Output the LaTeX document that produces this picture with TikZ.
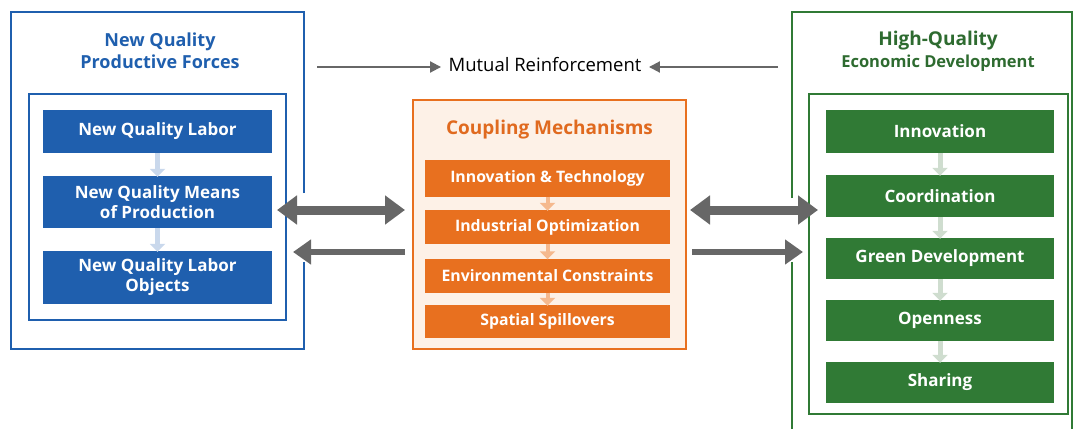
\documentclass[tikz,border=0pt]{standalone}
\usepackage{fontspec}
\setmainfont{Open Sans}
\usetikzlibrary{arrows.meta,positioning}

\definecolor{pfblue}{HTML}{1F5FAE}
\definecolor{pfbluelight}{HTML}{C9D8EC}
\definecolor{cmorange}{HTML}{E8701F}
\definecolor{cmorangetxt}{HTML}{E06A1F}
\definecolor{cmpeach}{HTML}{FDF1E7}
\definecolor{cmorangelight}{HTML}{F5B98E}
\definecolor{hqgreen}{HTML}{307A35}
\definecolor{hqgreentxt}{HTML}{2E6B30}
\definecolor{hqgreenlight}{HTML}{CFDDCF}
\definecolor{arrowgray}{HTML}{676767}

\tikzset{
  panelbox/.style={minimum height=#1, inner sep=0pt, align=center, text=white,
    font=\bfseries\fontsize{17}{20}\selectfont},
  bluebox/.style={panelbox=#1, fill=pfblue, minimum width=229pt},
  orangebox/.style={panelbox=#1, fill=cmorange, minimum width=245pt,
    font=\bfseries\fontsize{15.8}{18}\selectfont},
  greenbox/.style={panelbox=#1, fill=hqgreen, minimum width=228pt},
  paneltitle/.style={align=center, font=\bfseries\fontsize{18}{22}\selectfont},
  flowstep/.style={draw=#1, line width=5pt,
    -{Triangle[length=8pt,width=15pt]}, shorten >=-1pt},
  bigdouble/.style={draw=arrowgray, line width=9pt,
    {Triangle[length=20pt,width=28pt]}-{Triangle[length=20pt,width=28pt]}},
  bigsingle/.style={draw=arrowgray, line width=6.5pt,
    -{Triangle[length=18pt,width=24pt]}},
  thinarrow/.style={draw=arrowgray, line width=2pt,
    -{Triangle[length=11pt,width=11pt]}, shorten >=4pt},
}

\begin{document}
\begin{tikzpicture}[x=1pt,y=-1pt]
\useasboundingbox (0,0) rectangle (1075,428);

% ---------- left panel: new quality productive forces ----------
\draw[pfblue, line width=1.8pt]
  (304,193) -- (304,12) -- (11,12) -- (11,349) -- (304,349) -- (304,262);
\draw[pfblue, line width=1.2pt] (29,94) rectangle (286,320);
\node[paneltitle, text=pfblue] (pftitle) at (160,51) {New Quality\\Productive Forces};

\node[bluebox=43pt] (labor) at (157.5,131.5) {New Quality Labor};
\node[bluebox=52pt, font=\bfseries\fontsize{17}{20}\selectfont] (means) at (157.5,202)
  {New Quality Means\\of Production};
\node[bluebox=53pt, font=\bfseries\fontsize{17}{20}\selectfont] (objects) at (157.5,277.5)
  {New Quality Labor\\Objects};
\draw[flowstep=pfbluelight] (labor.south) -- (means.north);
\draw[flowstep=pfbluelight] (means.south) -- (objects.north);

% ---------- centre panel: coupling mechanisms ----------
\draw[cmorange, fill=cmpeach, line width=1.8pt] (413,100) rectangle (686,349);
\node[paneltitle, text=cmorangetxt, font=\bfseries\fontsize{19}{22}\selectfont]
  (cmtitle) at (549.5,130) {Coupling Mechanisms};

\node[orangebox=37pt] (tech) at (547.5,178) {Innovation \& Technology};
\node[orangebox=34pt] (indus) at (547.5,227) {Industrial Optimization};
\node[orangebox=34pt] (envir) at (547.5,275.5) {Environmental Constraints};
\node[orangebox=33pt] (spill) at (547.5,321.5) {Spatial Spillovers};
\draw[flowstep=cmorangelight, line width=4pt] (tech.south) -- (indus.north);
\draw[flowstep=cmorangelight, line width=4pt] (indus.south) -- (envir.north);
\draw[flowstep=cmorangelight, line width=4pt] (envir.south) -- (spill.north);

% ---------- right panel: high-quality economic development ----------
\draw[hqgreen, line width=1.8pt]
  (792,198) -- (792,12) -- (1072,12) -- (1072,430);
\draw[hqgreen, line width=1.8pt] (792,262) -- (792,430);
\draw[hqgreen, line width=1.2pt] (809,94) rectangle (1068,414);
\node[paneltitle, text=hqgreentxt, font=\bfseries\fontsize{19}{22}\selectfont] (hqtitle) at (938,51)
  {High-Quality\\{\fontsize{16.5}{22}\selectfont Economic Development}};

\node[greenbox=43pt] (innov) at (940,131.5) {Innovation};
\node[greenbox=42pt] (coord) at (940,196) {Coordination};
\node[greenbox=41pt] (green) at (940,258.5) {Green Development};
\node[greenbox=41pt] (open) at (940,320.5) {Openness};
\node[greenbox=41pt] (share) at (940,382.5) {Sharing};
\draw[flowstep=hqgreenlight] (innov.south) -- (coord.north);
\draw[flowstep=hqgreenlight] (coord.south) -- (green.north);
\draw[flowstep=hqgreenlight] (green.south) -- (open.north);
\draw[flowstep=hqgreenlight] (open.south) -- (share.north);

% ---------- mutual reinforcement ----------
\node[font=\fontsize{18.5}{22}\selectfont, text=black] (mutual) at (545,65) {Mutual Reinforcement};
\coordinate (mrleft) at (317,67);
\coordinate (mrright) at (778,67);
\draw[thinarrow] (mrleft) -- (mutual.west |- mrleft);
\draw[thinarrow] (mrright) -- (mutual.east |- mrright);

% ---------- links between panels ----------
\coordinate (lbtip) at (277,210);
\coordinate (lctip) at (405,210);
\coordinate (lsrc) at (405,252);
\coordinate (ldst) at (293,252);
\draw[bigdouble] (lbtip) -- (lctip);
\draw[bigsingle] (lsrc) -- (ldst);

\coordinate (rctip) at (690,210);
\coordinate (rgtip) at (818,210);
\coordinate (rsrc) at (692,252);
\coordinate (rdst) at (803,252);
\draw[bigdouble] (rctip) -- (rgtip);
\draw[bigsingle] (rsrc) -- (rdst);
\end{tikzpicture}
\end{document}
